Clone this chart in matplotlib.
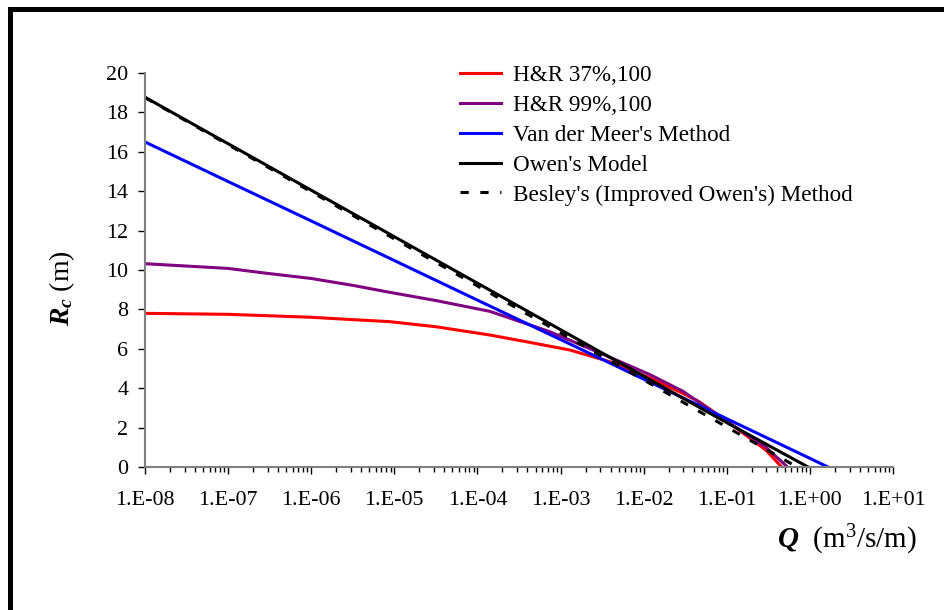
import matplotlib
matplotlib.use("Agg")
import matplotlib.pyplot as plt
from matplotlib.lines import Line2D
from matplotlib.ticker import LogLocator, FuncFormatter, NullFormatter
import numpy as np

plt.rcParams['font.family'] = ['Liberation Serif', 'DejaVu Serif']
plt.rcParams['mathtext.fontset'] = 'custom'
plt.rcParams['mathtext.rm'] = 'Liberation Serif'
plt.rcParams['mathtext.it'] = 'Liberation Serif:italic'
plt.rcParams['mathtext.bf'] = 'Liberation Serif:bold'
try:
    plt.rcParams['mathtext.bfit'] = 'Liberation Serif:bold:italic'
except KeyError:
    pass

# ---- data ----
hr37_logQ = [-8, -7, -6.53, -6, -5.5, -5.06, -4.5, -3.85, -3.4, -2.89, -2.37, -1.93,
             -1.53, -1.33, -0.95, -0.53, -0.34]
hr37_Rc = [7.80, 7.75, 7.68, 7.60, 7.48, 7.38, 7.12, 6.70, 6.35, 5.94, 5.30, 4.53,
           3.74, 3.31, 2.18, 0.86, 0.0]

hr99_logQ = [-8, -7, -6.53, -6, -5.5, -5.06, -4.5, -3.85, -3.13, -2.45, -1.93, -1.53,
             -0.95, -0.53, -0.27]
hr99_Rc = [10.32, 10.08, 9.83, 9.57, 9.22, 8.87, 8.45, 7.90, 6.87, 5.65, 4.70, 3.85,
           2.18, 1.00, 0.0]

vdm_Q = [1e-8, 1e-7, 1e-6, 1e-5, 1e-4, 1e-3, 1e-2, 1e-1, 1.0, 1.65]
vdm_Rc = [16.5, 14.49, 12.49, 10.48, 8.47, 6.47, 4.46, 2.45, 0.44, 0.0]

owen_Q = [1e-8, 1e-7, 1e-6, 1e-5, 1e-4, 1e-3, 1e-2, 1e-1, 0.95]
owen_Rc = [18.77, 16.41, 14.05, 11.69, 9.33, 6.97, 4.61, 2.25, 0.0]

besley_Q = [1e-8, 1e-7, 1e-6, 1e-5, 1e-4, 1e-3, 1e-2, 1e-1, 0.7]
besley_Rc = [18.75, 16.36, 13.97, 11.58, 9.19, 6.81, 4.42, 2.03, 0.0]

labels = ["H&R 37%,100", "H&R 99%,100", "Van der Meer's Method",
          "Owen's Model", "Besley's (Improved Owen's) Method"]
decades = list(range(-8, 2))

hr37_Q = [10.0 ** v for v in hr37_logQ]
hr99_Q = [10.0 ** v for v in hr99_logQ]

W, H = 944, 610
fig = plt.figure(figsize=(W / 100, H / 100), dpi=100)
ax = fig.add_axes([145 / W, 1 - 467 / H, (893 - 145) / W, (467 - 73) / H])

lw = 2.2
ax.plot(hr37_Q, hr37_Rc, color='#ff0000', lw=lw, label=labels[0])
ax.plot(hr99_Q, hr99_Rc, color='#800080', lw=lw, label=labels[1])
ax.plot(vdm_Q, vdm_Rc, color='#0000ff', lw=lw, label=labels[2])
ax.plot(owen_Q, owen_Rc, color='#000000', lw=lw, label=labels[3])
ax.plot(besley_Q, besley_Rc, color='#000000', lw=lw, linestyle=(0, (2.7, 3.8)),
        label=labels[4])

ax.set_xscale('log')
ax.set_xlim(1e-8, 1e1)
ax.set_ylim(0, 20)
ax.set_yticks(range(0, 21, 2))
ax.set_xticks([10.0 ** d for d in decades])
ax.xaxis.set_major_formatter(FuncFormatter(lambda v, p: "1.E%+03d" % int(round(np.log10(v)))))
ax.xaxis.set_minor_locator(LogLocator(base=10, subs=np.arange(2, 10), numticks=100))
ax.xaxis.set_minor_formatter(NullFormatter())

for s in ['top', 'right']:
    ax.spines[s].set_visible(False)
for s in ['left', 'bottom']:
    ax.spines[s].set_color('#808080')
    ax.spines[s].set_linewidth(1.5)

ax.tick_params(axis='both', which='major', length=5, width=1, color='black',
               labelsize=15.8, direction='out')
ax.tick_params(axis='x', which='major', pad=12)
ax.tick_params(axis='y', which='major', pad=7)
ax.tick_params(axis='x', which='minor', length=3.5, width=1, color='black', direction='out')

fig.text(62 / W, 1 - 288 / H, r"$\mathbfit{R}_{\mathbfit{c}}$ (m)", rotation=90,
         ha='center', va='center', fontsize=20)
fig.text(917 / W, 1 - 540 / H, r"$\mathbfit{Q}$  (m$^3$/s/m)", ha='right', va='center',
         fontsize=21)

leg = ax.legend(loc='upper left', bbox_to_anchor=(460 / W, 1 - 65 / H),
                bbox_transform=fig.transFigure, frameon=False, fontsize=16.7,
                handlelength=1.75, handletextpad=0.55, labelspacing=0.37,
                borderpad=0, borderaxespad=0)

# figure frame (top and left visible)
fig.add_artist(Line2D([9.5 / W, 9.5 / W], [0, 1 - 9 / H], transform=fig.transFigure,
                      color='black', lw=3.6, solid_capstyle='projecting'))
fig.add_artist(Line2D([9.5 / W, 1], [1 - 9 / H, 1 - 9 / H], transform=fig.transFigure,
                      color='black', lw=3.6, solid_capstyle='projecting'))

fig.savefig("out.png", dpi=100)
